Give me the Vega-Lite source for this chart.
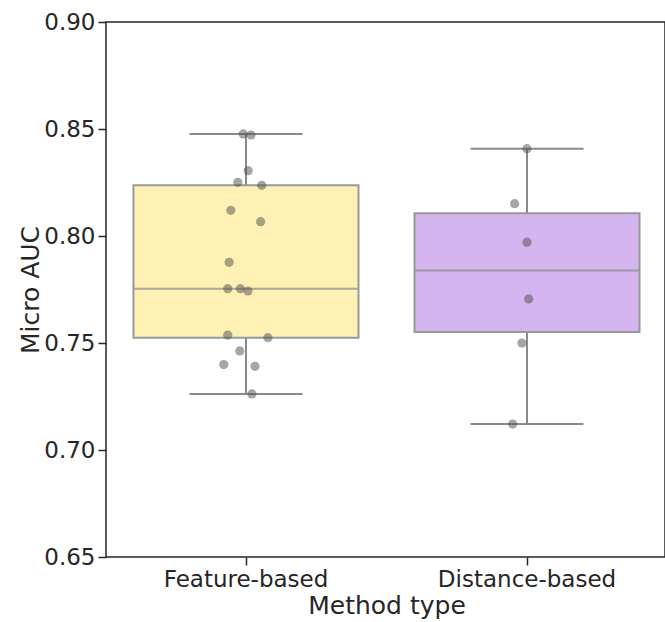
{
  "$schema": "https://vega.github.io/schema/vega-lite/v6.json",
  "autosize": {"type": "none"},
  "padding": {"left": 106, "top": 22, "right": 0, "bottom": 65},
  "width": 559,
  "height": 535,
  "config": {
    "font": "DejaVu Sans",
    "view": {"stroke": "#262626", "strokeWidth": 1.5},
    "axis": {
      "domainColor": "#262626", "domainWidth": 1.5,
      "tickColor": "#262626", "tickWidth": 1.5, "tickSize": 8,
      "labelColor": "#262626", "labelFontSize": 23, "labelFont": "DejaVu Sans",
      "titleColor": "#262626", "titleFontSize": 25, "titleFont": "DejaVu Sans", "titleFontWeight": "normal",
      "grid": false
    }
  },
  "data": {"values": [
    {"method": "Feature-based", "auc": 0.8477, "jitter": -0.010},
    {"method": "Feature-based", "auc": 0.8472, "jitter": 0.018},
    {"method": "Feature-based", "auc": 0.8305, "jitter": 0.008},
    {"method": "Feature-based", "auc": 0.8251, "jitter": -0.029},
    {"method": "Feature-based", "auc": 0.8237, "jitter": 0.056},
    {"method": "Feature-based", "auc": 0.8120, "jitter": -0.054},
    {"method": "Feature-based", "auc": 0.8067, "jitter": 0.052},
    {"method": "Feature-based", "auc": 0.7877, "jitter": -0.060},
    {"method": "Feature-based", "auc": 0.7754, "jitter": -0.065},
    {"method": "Feature-based", "auc": 0.7754, "jitter": -0.020},
    {"method": "Feature-based", "auc": 0.7743, "jitter": 0.007},
    {"method": "Feature-based", "auc": 0.7537, "jitter": -0.065},
    {"method": "Feature-based", "auc": 0.7525, "jitter": 0.078},
    {"method": "Feature-based", "auc": 0.7463, "jitter": -0.022},
    {"method": "Feature-based", "auc": 0.7399, "jitter": -0.079},
    {"method": "Feature-based", "auc": 0.7391, "jitter": 0.032},
    {"method": "Feature-based", "auc": 0.7262, "jitter": 0.021},
    {"method": "Distance-based", "auc": 0.8408, "jitter": 0.000},
    {"method": "Distance-based", "auc": 0.8151, "jitter": -0.044},
    {"method": "Distance-based", "auc": 0.7971, "jitter": 0.000},
    {"method": "Distance-based", "auc": 0.7706, "jitter": 0.006},
    {"method": "Distance-based", "auc": 0.7500, "jitter": -0.018},
    {"method": "Distance-based", "auc": 0.7121, "jitter": -0.051}
  ]},
  "encoding": {
    "x": {
      "field": "method", "type": "nominal",
      "sort": ["Feature-based", "Distance-based"],
      "scale": {"range": [-0.5, 561.5], "paddingInner": 0, "paddingOuter": 0},
      "axis": {"title": "Method type", "labelAngle": 0, "labelPadding": 3, "titlePadding": 2, "domain": false}
    },
    "y": {
      "field": "auc", "type": "quantitative",
      "scale": {"domain": [0.65, 0.90], "nice": false, "zero": false},
      "axis": {"title": "Micro AUC", "values": [0.65, 0.70, 0.75, 0.80, 0.85, 0.90], "format": ".2f", "labelPadding": 3, "titlePadding": 0, "domain": false}
    }
  },
  "layer": [
    {
      "mark": {
        "type": "boxplot",
        "extent": 1.5,
        "size": 225,
        "outliers": false,
        "box": {"stroke": "#999999", "strokeWidth": 2},
        "median": {"color": "#8a8a8a", "thickness": 2},
        "rule": {"color": "#8a8a8a", "strokeWidth": 2},
        "ticks": {"color": "#8a8a8a", "size": 113, "thickness": 2}
      },
      "encoding": {
        "color": {
          "field": "method", "type": "nominal",
          "scale": {"domain": ["Feature-based", "Distance-based"], "range": ["#FFF1B3", "#D5B5EF"]},
          "legend": null
        }
      }
    },
    {
      "mark": {"type": "circle", "size": 85, "color": "#4d4d4d", "opacity": 0.5},
      "encoding": {
        "xOffset": {"field": "jitter", "type": "quantitative", "scale": {"domain": [-0.5, 0.5]}}
      }
    }
  ]
}
